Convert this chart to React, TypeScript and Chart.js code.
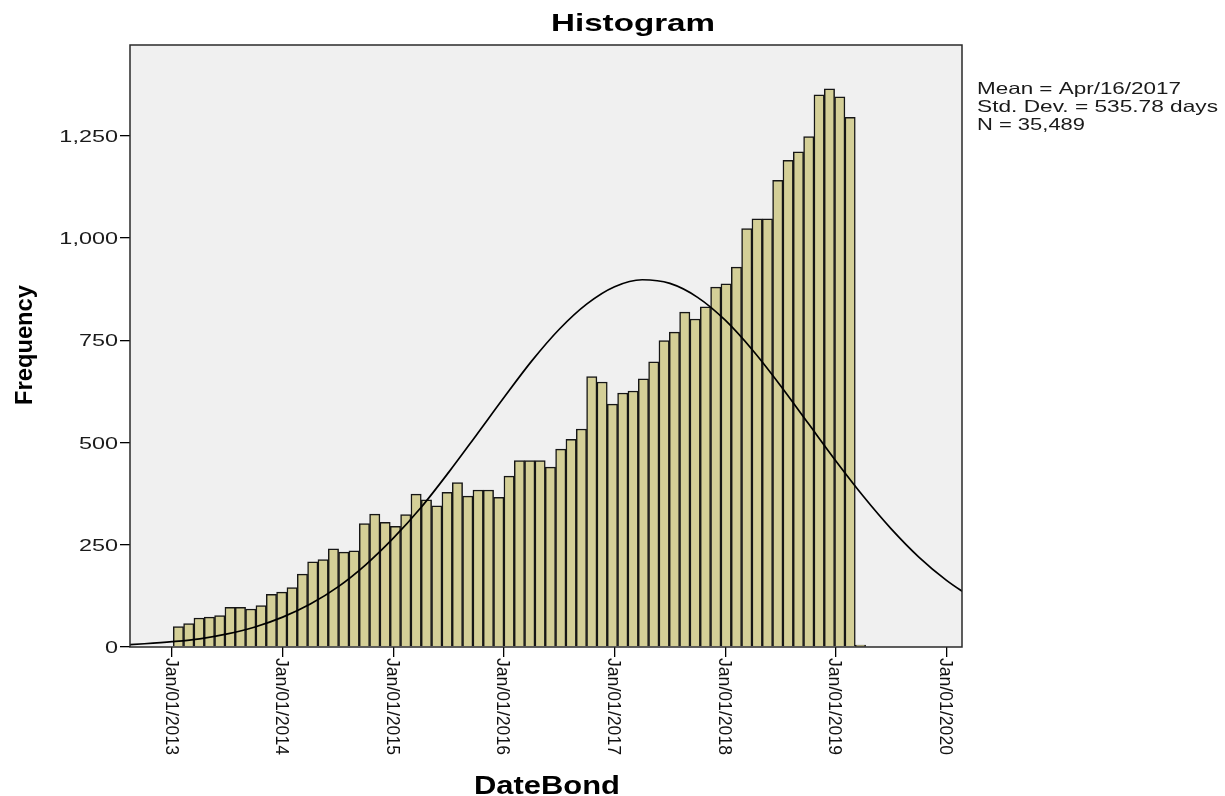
import React, { useEffect, useRef } from 'react';
import { Chart, registerables } from 'chart.js';

Chart.register(...registerables);

// ---- Data ----
const binStartYear = 2013.011; // left edge of the first bin (decimal year)
const binWidthYears = 0.0934; // width of one bin (about 34 days)
const binCounts = [
  50, 57, 71, 73, 77, 97, 97, 93, 101, 129, 134, 145, 178, 208, 214, 240, 232,
  235, 302, 325, 305, 295, 324, 374, 360, 345, 378, 402, 369, 384, 384, 366, 418, 456,
  456, 456, 440, 484, 508, 533, 661, 648, 594, 621, 626, 656, 697, 749, 770, 819, 802,
  832, 880, 888, 929, 1023, 1047, 1047, 1141, 1190, 1211, 1248, 1350, 1365, 1345, 1295, 5,
];

// Fitted normal curve at quarter-year steps
const curveYears = [
  2012.5, 2012.75, 2013, 2013.25, 2013.5, 2013.75, 2014, 2014.25, 2014.5, 2014.75,
  2015, 2015.25, 2015.5, 2015.75, 2016, 2016.25, 2016.5, 2016.75, 2017, 2017.25,
  2017.5, 2017.75, 2018, 2018.25, 2018.5, 2018.75, 2019, 2019.25, 2019.5, 2019.75,
  2020, 2020.25,
];
const curveFreq = [
  4, 8, 13, 20, 32, 49, 73, 105, 147, 201,
  266, 341, 427, 518, 610, 699, 777, 839, 881, 898,
  889, 855, 799, 725, 639, 547, 455, 368, 289, 220,
  163, 117,
];

const yTickValues = [0, 250, 500, 750, 1000, 1250];
const yTickLabels = ['0', '250', '500', '750', '1,000', '1,250'];
const xTickYears = [2013, 2014, 2015, 2016, 2017, 2018, 2019, 2020];
const xTickLabels = xTickYears.map((y) => `Jan/01/${y}`);

const chartTitle = 'Histogram';
const xTitle = 'DateBond';
const yTitle = 'Frequency';
const statLines = ['Mean = Apr/16/2017', 'Std. Dev. = 535.78 days', 'N = 35,489'];
const statWidths = [204, 241, 108];

const xMin = 2012.62;
const xMax = 2020.14;
const yMax = 1472;

const FONT = '"Liberation Sans", Arial, Helvetica, sans-serif';

// Draws text stretched along its reading direction by factor `stretch`
// (or to `targetWidth` when given).
function drawText(
  ctx: CanvasRenderingContext2D,
  text: string,
  x: number,
  y: number,
  size: number,
  bold: boolean,
  targetWidth: number | null,
  stretch: number,
  align: 'left' | 'right' | 'center',
  rotate: number,
  color: string
) {
  ctx.save();
  ctx.font = `${bold ? 'bold ' : ''}${size}px ${FONT}`;
  ctx.fillStyle = color;
  ctx.textBaseline = 'alphabetic';
  ctx.textAlign = align;
  const natural = ctx.measureText(text).width;
  const sx = targetWidth == null ? stretch : targetWidth / natural;
  ctx.translate(x, y);
  if (rotate) ctx.rotate(rotate);
  ctx.scale(sx, 1);
  ctx.fillText(text, 0, 0);
  ctx.restore();
}

const decorPlugin = {
  id: 'spssDecor',
  beforeDraw(chart: any) {
    const { ctx, chartArea } = chart;
    ctx.save();
    ctx.fillStyle = '#ffffff';
    ctx.fillRect(0, 0, chart.width, chart.height);
    ctx.fillStyle = '#f0f0f0';
    ctx.fillRect(chartArea.left, chartArea.top, chartArea.right - chartArea.left, chartArea.bottom - chartArea.top);
    ctx.restore();
  },
  afterDraw(chart: any) {
    const { ctx, chartArea } = chart;
    const xs = chart.scales.x;
    const ys = chart.scales.y;
    // frame
    ctx.save();
    ctx.strokeStyle = '#2a2a2a';
    ctx.lineWidth = 1.5;
    ctx.strokeRect(chartArea.left, chartArea.top, chartArea.right - chartArea.left, chartArea.bottom - chartArea.top);
    ctx.restore();

    // y tick labels
    yTickValues.forEach((v, i) => {
      const py = ys.getPixelForValue(v);
      drawText(ctx, yTickLabels[i], chartArea.left - 12, py + 6, 16.5, false, null, 1.42, 'right', 0, '#1a1a1a');
    });
    // x tick labels (rotated clockwise)
    xTickYears.forEach((v, i) => {
      const px = xs.getPixelForValue(v);
      drawText(ctx, xTickLabels[i], px - 6.5, chartArea.bottom + 11, 18, false, 97, 1, 'left', Math.PI / 2, '#111');
    });
    // titles
    drawText(ctx, chartTitle, 633, 31, 24, true, 164, 1, 'center', 0, '#000');
    drawText(ctx, xTitle, 547, 794, 25, true, 146, 1, 'center', 0, '#000');
    drawText(ctx, yTitle, 32, 345, 24, true, 120, 1, 'center', -Math.PI / 2, '#000');
    // stats
    statLines.forEach((s, i) => {
      drawText(ctx, s, 977, 94 + i * 18, 16.5, false, statWidths[i], 1, 'left', 0, '#1a1a1a');
    });
  },
};

export default function App() {
  const canvasRef = useRef<HTMLCanvasElement | null>(null);

  useEffect(() => {
    const canvas = canvasRef.current;
    if (!canvas) return;
    const barData = binCounts.map((c, i) => ({ x: binStartYear + (i + 0.5) * binWidthYears, y: c }));
    const curveData = curveYears.map((x, i) => ({ x, y: curveFreq[i] }));

    const chart = new Chart(canvas, {
      type: 'bar',
      data: {
        datasets: [
          {
            type: 'line',
            label: 'Normal',
            data: curveData,
            borderColor: '#000000',
            borderWidth: 1.7,
            pointRadius: 0,
            fill: false,
            cubicInterpolationMode: 'monotone',
            order: 1,
          } as any,
          {
            type: 'bar',
            label: 'Frequency',
            data: barData,
            backgroundColor: '#d4cf97',
            borderColor: '#161616',
            borderWidth: 1.5,
            barPercentage: 1,
            categoryPercentage: 1,
            order: 2,
          } as any,
        ],
      },
      options: {
        responsive: false,
        animation: false,
        devicePixelRatio: 1,
        layout: { padding: { left: 0, right: 263, top: 45, bottom: 0 } },
        plugins: {
          legend: { display: false },
          title: { display: false },
          tooltip: { enabled: false },
        },
        scales: {
          x: {
            type: 'linear',
            min: xMin,
            max: xMax,
            offset: false,
            grid: { display: true, drawOnChartArea: false, drawTicks: true, tickLength: 10, color: '#000', offset: false, lineWidth: 1.3 },
            border: { display: false },
            ticks: { display: false },
            afterBuildTicks: (s: any) => {
              s.ticks = xTickYears.map((v) => ({ value: v }));
            },
            afterFit: (s: any) => {
              s.height = 149;
            },
          },
          y: {
            type: 'linear',
            min: 0,
            max: yMax,
            grid: { display: true, drawOnChartArea: false, drawTicks: true, tickLength: 10, color: '#000', lineWidth: 1.3 },
            border: { display: false },
            ticks: { display: false },
            afterBuildTicks: (s: any) => {
              s.ticks = yTickValues.map((v) => ({ value: v }));
            },
            afterFit: (s: any) => {
              s.width = 130;
            },
          },
        },
      } as any,
      plugins: [decorPlugin],
    });
    return () => chart.destroy();
  }, []);

  return (
    <div style={{ position: 'absolute', left: 0, top: 0, width: 1225, height: 796, background: '#fff' }}>
      <canvas ref={canvasRef} width={1225} height={796} style={{ display: 'block', width: 1225, height: 796 }} />
    </div>
  );
}
